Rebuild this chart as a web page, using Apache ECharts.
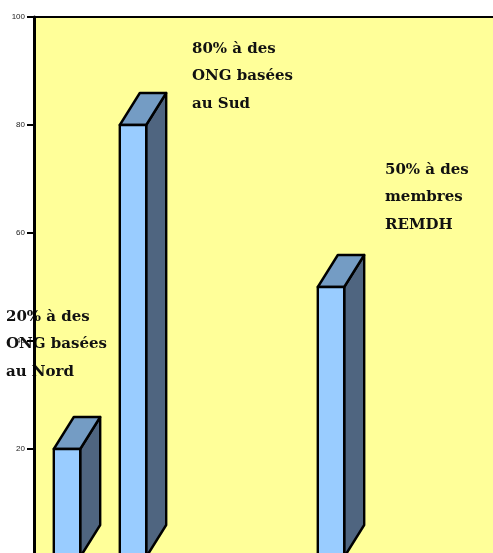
<!DOCTYPE html>
<html><head><meta charset="utf-8">
<script src="https://cdn.jsdelivr.net/npm/echarts@6/dist/echarts.min.js"></script>
<style>html,body{margin:0;padding:0;overflow:hidden;background:#fff;width:493px;height:553px}#c{width:520px;height:600px}</style>
</head><body><div id="c"></div>
<script>
var categories = ['ONG Nord', 'ONG Sud', '', '', 'REMDH', '', ''];
var values = [20, 80, null, null, 50, null, null];
var yTicks = [0, 20, 40, 60, 80, 100];
var notes = [
  ['20% à des', 'ONG basées', 'au Nord'],
  ['80% à des', 'ONG basées', 'au Sud'],
  ['50% à des', 'membres', 'REMDH']
];

var chart = echarts.init(document.getElementById('c'));
var DX = 20, DY = -32;
function renderItem(params, api) {
  var v = api.value(1);
  if (v == null || isNaN(v)) return;
  var top = api.coord([api.value(0), v]);
  var base = api.coord([api.value(0), 0]);
  var w = api.size([1, 0])[0] * 0.4;
  var x0 = top[0] - w / 2, x1 = top[0] + w / 2, y0 = top[1], y1 = base[1];
  var st = {stroke: '#000', lineWidth: 2.4, lineJoin: 'round'};
  return {
    type: 'group',
    children: [
      {type: 'polygon', shape: {points: [[x1, y0], [x1 + DX, y0 + DY], [x1 + DX, y1 + DY], [x1, y1]]}, style: Object.assign({fill: '#4F6580'}, st)},
      {type: 'polygon', shape: {points: [[x0, y0], [x0 + DX, y0 + DY], [x1 + DX, y0 + DY], [x1, y0]]}, style: Object.assign({fill: '#749CC4'}, st)},
      {type: 'rect', shape: {x: x0, y: y0, width: w, height: y1 - y0}, style: Object.assign({fill: '#99CCFF'}, st)}
    ]
  };
}
var noteSpots = [[6, 317], [192, 49], [385, 170]];
var graphics = [];
notes.forEach(function (lines, i) {
  lines.forEach(function (t, j) {
    graphics.push({type: 'text', x: noteSpots[i][0], y: noteSpots[i][1] + j * 27.5, z: 5,
      style: {text: t, font: 'bold 15px "DejaVu Serif", "Liberation Serif", serif', fill: '#111', verticalAlign: 'middle'}});
  });
});
chart.setOption({
  animation: false,
  grid: {left: 34, top: 17, right: 24, bottom: 43, show: true, backgroundColor: '#FFFF99', borderWidth: 0},
  xAxis: {type: 'category', data: categories, position: 'top', z: 10,
    axisLine: {show: true, onZero: false, lineStyle: {color: '#000', width: 2}},
    axisTick: {show: false}, axisLabel: {show: false}, splitLine: {show: false}},
  yAxis: {type: 'value', min: yTicks[0], max: yTicks[yTicks.length - 1], interval: 20, z: 10,
    axisLine: {show: true, lineStyle: {color: '#000', width: 3}},
    axisTick: {show: true, length: 7, lineStyle: {color: '#000', width: 2}},
    axisLabel: {fontSize: 8, color: '#222', margin: 9, fontFamily: '"Liberation Sans", Arial, sans-serif',
      formatter: function (v) { return v === 0 ? '' : String(v); }},
    splitLine: {show: false}},
  graphic: graphics,
  series: [{type: 'custom', renderItem: renderItem, z: 2, clip: false,
    data: values.map(function (v, i) { return [i, v]; })}]
});
</script></body></html>
